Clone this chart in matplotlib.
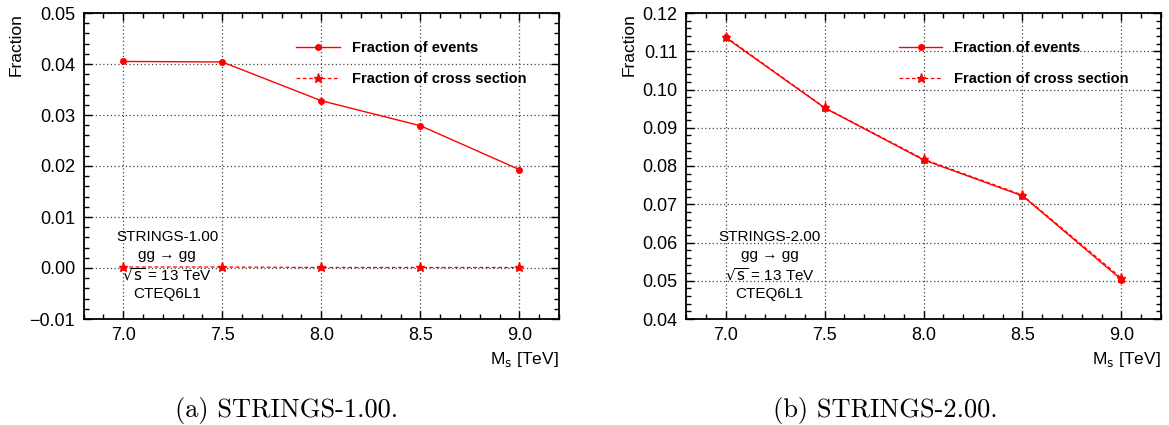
import matplotlib
matplotlib.use('Agg')
import matplotlib.pyplot as plt
from matplotlib.ticker import MultipleLocator, FuncFormatter

plt.rcParams['font.family'] = ['Liberation Sans', 'DejaVu Sans']

# masses (TeV)
ms = [7.0, 7.5, 8.0, 8.5, 9.0]

# STRINGS-1.00
frac_events_1 = [0.0405, 0.0404, 0.0328, 0.0279, 0.0193]
frac_xsec_1 = [0.0002, 0.0002, 0.0001, 0.0001, 0.0001]

# STRINGS-2.00
frac_events_2 = [0.1136, 0.0952, 0.0816, 0.0722, 0.0503]
frac_xsec_2 = [0.1138, 0.0953, 0.0818, 0.0724, 0.0507]

panels = [
    dict(ev=frac_events_1, xs=frac_xsec_1, ylim=(-0.01, 0.05),
         name='STRINGS-1.00', caption='(a) STRINGS-1.00.', cap_x=287),
    dict(ev=frac_events_2, xs=frac_xsec_2, ylim=(0.04, 0.12),
         name='STRINGS-2.00', caption='(b) STRINGS-2.00.', cap_x=885),
]


def yfmt(v, pos):
    s = '%.2f' % v
    return s.replace('-', '\u2212')


fig = plt.figure(figsize=(11.69, 4.25), dpi=100)
W, H = 1169, 425
# axes boxes in pixels: left, top, right, bottom
boxes = [(83.5, 13, 559, 319), (686, 13, 1161, 319)]

for p, (l, t, r, b) in zip(panels, boxes):
    ax = fig.add_axes([l / W, 1 - b / H, (r - l) / W, (b - t) / H])
    ax.plot(ms, p['ev'], color='red', lw=1.0, marker='o', ms=4,
            label='Fraction of events', zorder=3)
    ax.plot(ms, p['xs'], color='red', lw=0.9, ls=(0, (3, 2)), marker='*', ms=6.5,
            label='Fraction of cross section', zorder=3)
    ax.set_xlim(6.8, 9.2)
    ax.set_ylim(*p['ylim'])
    ax.xaxis.set_major_locator(MultipleLocator(0.5))
    ax.xaxis.set_minor_locator(MultipleLocator(0.1))
    ax.yaxis.set_major_locator(MultipleLocator(0.01))
    ax.yaxis.set_minor_locator(MultipleLocator(0.002))
    ax.xaxis.set_major_formatter(FuncFormatter(lambda v, pos: '%.1f' % v))
    ax.yaxis.set_major_formatter(FuncFormatter(yfmt))
    ax.tick_params(which='both', direction='in', top=True, right=True, labelsize=13,
                   width=1.0, color='black')
    ax.tick_params(which='major', length=6, pad=6)
    ax.tick_params(which='minor', length=3.5)
    for s in ax.spines.values():
        s.set_linewidth(1.3)
    ax.grid(True, which='major', ls=(0, (1, 2)), color='#444444', lw=0.9)
    ax.set_axisbelow(True)
    ax.set_ylabel('Fraction', fontsize=12.5, loc='top', labelpad=4)
    ax.set_xlabel(r'M$_{\rm s}$ [TeV]', fontsize=12.5, loc='right', labelpad=4)
    ax.legend(loc='upper left', bbox_to_anchor=(0.42, 0.95), frameon=False,
              prop=dict(weight='bold', size=10.5), handlelength=3.0,
              labelspacing=1.15, handletextpad=0.8)
    ax.text(0.176, 0.175, p['name'] + '\ngg \u2192 gg\n' +
            r'$\sqrt{\mathrm{s}}$ = 13 TeV' + '\nCTEQ6L1',
            transform=ax.transAxes, ha='center', va='center', fontsize=11,
            linespacing=1.35)
    fig.text(p['cap_x'] / W, 1 - 410 / H, p['caption'], ha='center', va='center',
             fontsize=19, family='cmr10')

fig.savefig('out.png', dpi=100)
